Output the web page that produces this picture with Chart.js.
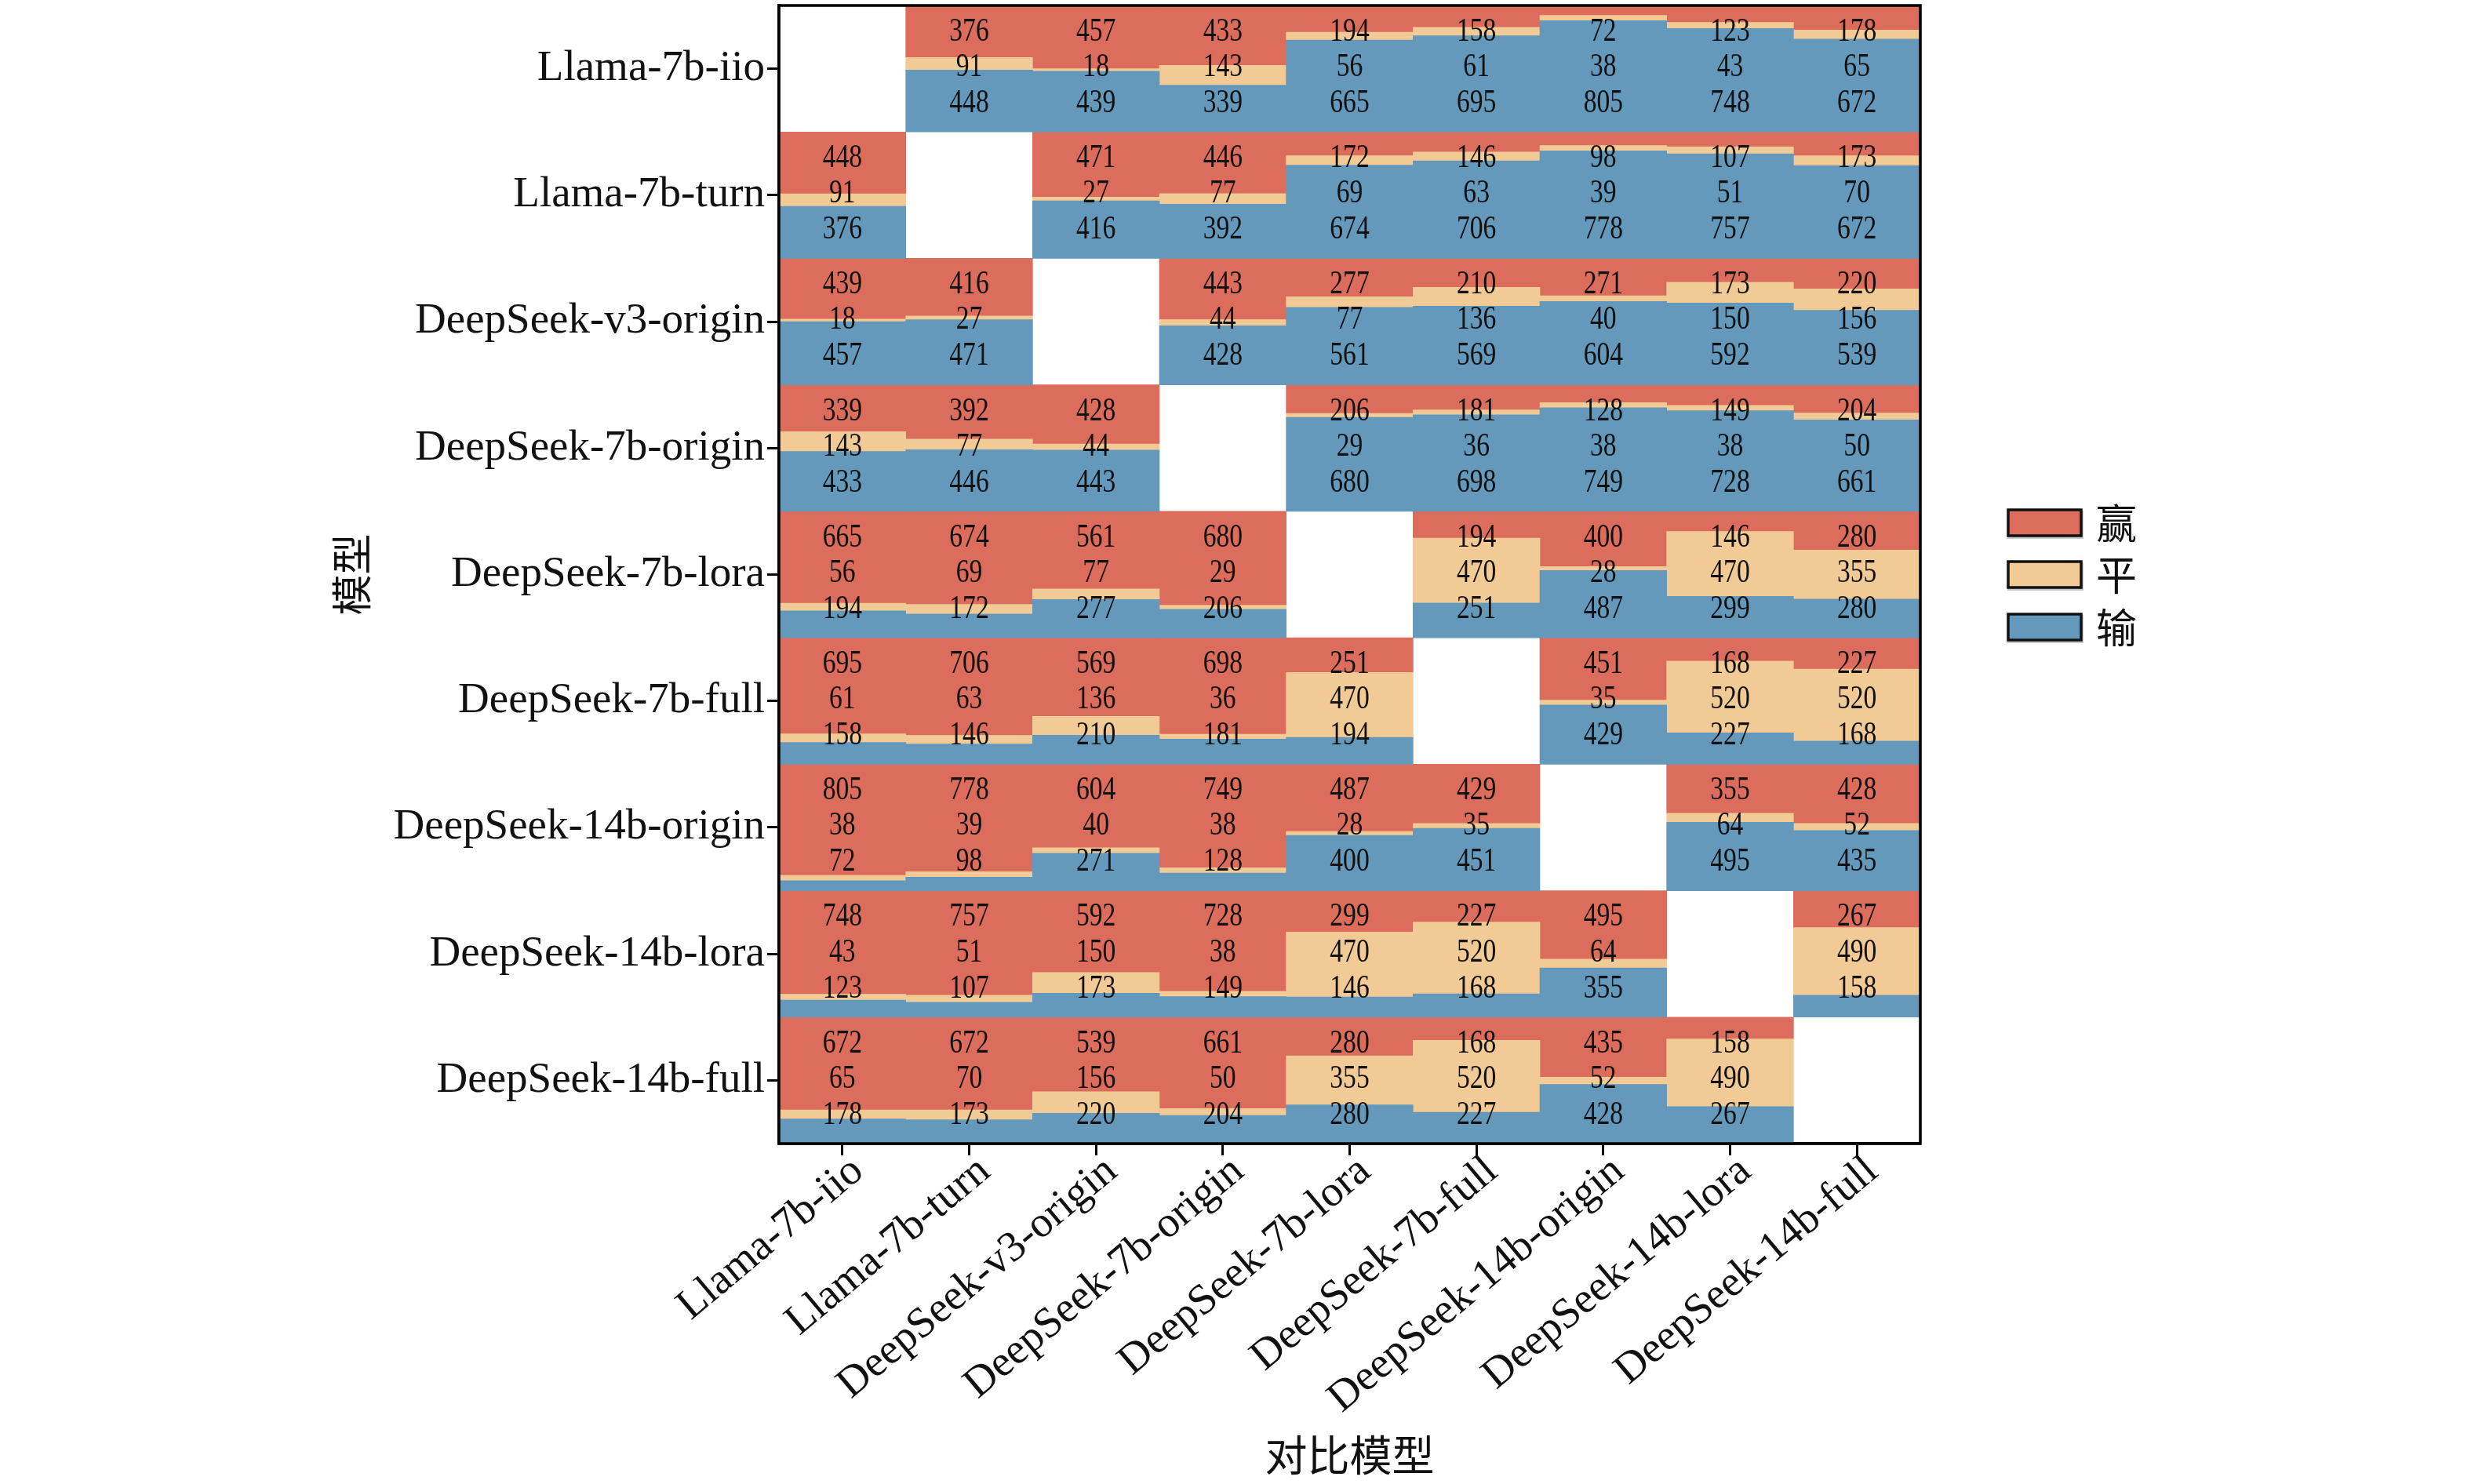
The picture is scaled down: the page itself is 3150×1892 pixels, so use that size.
<!DOCTYPE html>
<html>
<head>
<meta charset="utf-8">
<script src="https://cdn.jsdelivr.net/npm/chart.js@4.4.1/dist/chart.umd.min.js"></script>
<style>
  body { margin: 0; background: #fff; }
  #wrap { width: 3150px; height: 1892px; }
</style>
</head>
<body>
<div id="wrap"><canvas id="chart" width="3150" height="1892"></canvas></div>
<script>
// Models (rows = model, columns = compared model)
const models = [
  'Llama-7b-iio', 'Llama-7b-turn', 'DeepSeek-v3-origin', 'DeepSeek-7b-origin',
  'DeepSeek-7b-lora', 'DeepSeek-7b-full', 'DeepSeek-14b-origin',
  'DeepSeek-14b-lora', 'DeepSeek-14b-full'
];

// Win counts (row model beats column model)
const winCounts = [
  [null, 376, 457, 433, 194, 158, 72, 123, 178],
  [448, null, 471, 446, 172, 146, 98, 107, 173],
  [439, 416, null, 443, 277, 210, 271, 173, 220],
  [339, 392, 428, null, 206, 181, 128, 149, 204],
  [665, 674, 561, 680, null, 194, 400, 146, 280],
  [695, 706, 569, 698, 251, null, 451, 168, 227],
  [805, 778, 604, 749, 487, 429, null, 355, 428],
  [748, 757, 592, 728, 299, 227, 495, null, 267],
  [672, 672, 539, 661, 280, 168, 435, 158, null]
];

// Tie counts
const tieCounts = [
  [null, 91, 18, 143, 56, 61, 38, 43, 65],
  [91, null, 27, 77, 69, 63, 39, 51, 70],
  [18, 27, null, 44, 77, 136, 40, 150, 156],
  [143, 77, 44, null, 29, 36, 38, 38, 50],
  [56, 69, 77, 29, null, 470, 28, 470, 355],
  [61, 63, 136, 36, 470, null, 35, 520, 520],
  [38, 39, 40, 38, 28, 35, null, 64, 52],
  [43, 51, 150, 38, 470, 520, 64, null, 490],
  [65, 70, 156, 50, 355, 520, 52, 490, null]
];

// Lose counts
const loseCounts = [
  [null, 448, 439, 339, 665, 695, 805, 748, 672],
  [376, null, 416, 392, 674, 706, 778, 757, 672],
  [457, 471, null, 428, 561, 569, 604, 592, 539],
  [433, 446, 443, null, 680, 698, 749, 728, 661],
  [194, 172, 277, 206, null, 251, 487, 299, 280],
  [158, 146, 210, 181, 194, null, 429, 227, 168],
  [72, 98, 271, 128, 400, 451, null, 495, 435],
  [123, 107, 173, 149, 146, 168, 355, null, 158],
  [178, 173, 220, 204, 280, 227, 428, 267, null]
];

const seriesNames = ['赢', '平', '输'];
const seriesColors = ['#DC6C5B', '#F2CA95', '#6499BC'];

const nRows = models.length;
const serifFont = "'Liberation Serif', 'Times New Roman', serif";
const cjkFont = "'Noto Sans CJK SC', sans-serif";

// Build floating bar datasets: each row is a band [nRows-1-i, nRows-i]
function buildDatasets() {
  const datasets = [];
  for (let i = 0; i < nRows; i++) {
    const base = nRows - 1 - i;
    const lose = [], tie = [], win = [];
    for (let j = 0; j < nRows; j++) {
      if (winCounts[i][j] === null) {
        lose.push(null); tie.push(null); win.push(null);
        continue;
      }
      const total = winCounts[i][j] + tieCounts[i][j] + loseCounts[i][j];
      const a = loseCounts[i][j] / total;
      const b = a + tieCounts[i][j] / total;
      lose.push([base, base + a]);
      tie.push([base + a, base + b]);
      win.push([base + b, base + 1]);
    }
    [[lose, 2], [tie, 1], [win, 0]].forEach(([data, s]) => {
      datasets.push({
        label: seriesNames[s],
        data: data,
        backgroundColor: seriesColors[s],
        borderWidth: 0,
        grouped: false,
        barPercentage: 1,
        categoryPercentage: 1
      });
    });
  }
  return datasets;
}

// Numbers inside each cell: win on top, tie in the middle, lose at the bottom
const cellLabels = {
  id: 'cellLabels',
  afterDatasetsDraw(chart) {
    const { ctx, scales: { x, y } } = chart;
    ctx.save();
    ctx.fillStyle = '#111';
    ctx.font = '42px ' + serifFont;
    ctx.textAlign = 'center';
    ctx.textBaseline = 'middle';
    for (let i = 0; i < nRows; i++) {
      const base = nRows - 1 - i;
      for (let j = 0; j < nRows; j++) {
        if (winCounts[i][j] === null) continue;
        const px = x.getPixelForValue(j);
        const rows = [
          [winCounts[i][j], base + 1 - 0.21],
          [tieCounts[i][j], base + 1 - 0.49],
          [loseCounts[i][j], base + 1 - 0.775]
        ];
        rows.forEach(([v, pos]) => {
          ctx.save();
          ctx.translate(px, y.getPixelForValue(pos));
          ctx.scale(0.8, 1);
          ctx.fillText(String(v), 0, 0);
          ctx.restore();
        });
      }
    }
    // frame round the plot
    const a = chart.chartArea;
    ctx.strokeStyle = '#000';
    ctx.lineWidth = 3.5;
    ctx.strokeRect(a.left, a.top, a.right - a.left, a.bottom - a.top);
    ctx.restore();
  }
};

// Legend on the right
const sideLegend = {
  id: 'sideLegend',
  afterDraw(chart) {
    const { ctx } = chart;
    const left = 2560, boxW = 93, boxH = 33;
    const tops = [650, 716, 783];
    ctx.save();
    seriesNames.forEach((name, s) => {
      const top = tops[s];
      ctx.fillStyle = '#c8c8c8';
      ctx.fillRect(left - 1, top + 1, boxW + 4, boxH + 3);
      ctx.fillStyle = seriesColors[s];
      ctx.fillRect(left, top, boxW, boxH);
      ctx.strokeStyle = '#111';
      ctx.lineWidth = 3.5;
      ctx.strokeRect(left, top, boxW, boxH);
      ctx.fillStyle = '#111';
      ctx.font = '52px ' + cjkFont;
      ctx.textAlign = 'left';
      ctx.textBaseline = 'middle';
      ctx.fillText(name, 2672, top + boxH / 2 + 1);
    });
    ctx.restore();
  }
};

new Chart(document.getElementById('chart'), {
  type: 'bar',
  data: { labels: models, datasets: buildDatasets() },
  options: {
    responsive: false,
    animation: false,
    layout: { padding: { left: 413, top: 7, right: 702, bottom: 0 } },
    plugins: {
      legend: { display: false },
      tooltip: { enabled: false }
    },
    scales: {
      x: {
        type: 'category',
        offset: true,
        grid: {
          offset: false,
          drawOnChartArea: false,
          drawTicks: true,
          tickLength: 15,
          tickWidth: 3,
          tickColor: '#000'
        },
        border: { display: true, color: '#000', width: 3.5 },
        ticks: {
          autoSkip: false,
          minRotation: 40,
          maxRotation: 40,
          padding: -12,
          labelOffset: 20,
          color: '#111',
          font: { family: serifFont, size: 55 }
        },
        title: {
          display: true,
          text: '对比模型',
          color: '#111',
          font: { family: cjkFont, size: 54 }
        },
        afterFit(scale) {
          scale.height = 434;
          scale.paddingLeft = 0;
          scale.paddingRight = 0;
        }
      },
      y: {
        type: 'linear',
        min: 0,
        max: nRows,
        grid: {
          drawOnChartArea: false,
          drawTicks: true,
          tickLength: 15,
          tickWidth: 3,
          tickColor: '#000'
        },
        border: { display: true, color: '#000', width: 3.5 },
        afterBuildTicks(scale) {
          scale.ticks = models.map((m, i) => ({ value: nRows - 0.5 - i }));
        },
        ticks: {
          color: '#111',
          font: { family: serifFont, size: 55 },
          callback: (value) => models[Math.round(nRows - 0.5 - value)]
        },
        title: {
          display: true,
          text: '模型',
          color: '#111',
          font: { family: cjkFont, size: 52 }
        },
        afterFit(scale) {
          scale.width = 580;
          scale.paddingTop = 0;
          scale.paddingBottom = 0;
        }
      }
    }
  },
  plugins: [cellLabels, sideLegend]
});
</script>
</body>
</html>
